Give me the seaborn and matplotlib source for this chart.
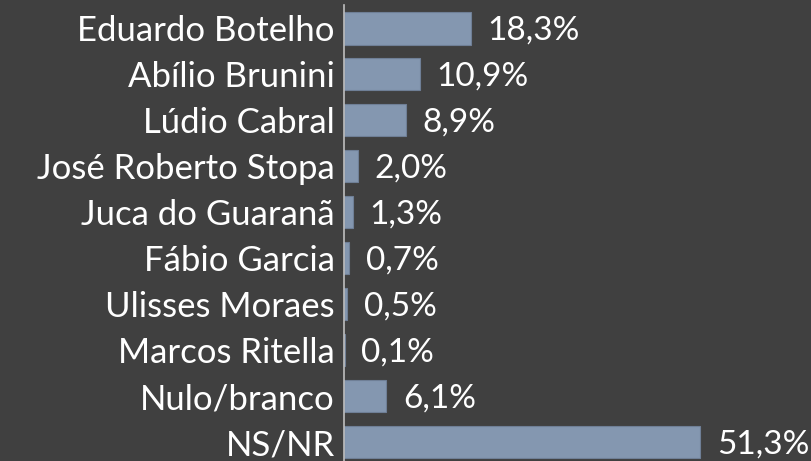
import matplotlib
matplotlib.use("Agg")
import matplotlib.pyplot as plt
import seaborn as sns
import pandas as pd

categories = ["Eduardo Botelho", "Abílio Brunini", "Lúdio Cabral", "José Roberto Stopa",
              "Juca do Guaranã", "Fábio Garcia", "Ulisses Moraes", "Marcos Ritella",
              "Nulo/branco", "NS/NR"]
values = [18.3, 10.9, 8.9, 2.0, 1.3, 0.7, 0.5, 0.1, 6.1, 51.3]
value_labels = ["18,3%", "10,9%", "8,9%", "2,0%", "1,3%", "0,7%", "0,5%", "0,1%", "6,1%", "51,3%"]

sns.set_theme(style="white")
plt.rcParams['font.family'] = ['Lato', 'DejaVu Sans']

bg = "#404040"
fig = plt.figure(figsize=(8.12, 4.61), dpi=100, facecolor=bg)
ax = fig.add_axes([344/812, 0.0, (812-344)/812, (461-5)/461])
ax.set_facecolor(bg)

df = pd.DataFrame({"cat": categories, "val": values})
sns.barplot(data=df, x="val", y="cat", ax=ax, color="#8497B0", saturation=1,
            width=0.7, edgecolor="#6f7f96", linewidth=0.8)

ax.set_xlim(0, 67.4)
ax.set_ylim(9.41, -0.51)
ax.set_xlabel("")
ax.set_ylabel("")
ax.set_xticks([])
for s in ["top", "right", "bottom"]:
    ax.spines[s].set_visible(False)
ax.spines["left"].set_color("#bfbfbf")
ax.spines["left"].set_linewidth(1.2)
ax.tick_params(axis="y", length=0, pad=6.5, labelsize=25, labelcolor="white")

for i, (v, lab) in enumerate(zip(values, value_labels)):
    ax.annotate(lab, (v, i), xytext=(12, -1.5), textcoords="offset points",
                va="center", ha="left", fontsize=24, color="white")

fig.savefig("out.png", dpi=100, facecolor=bg)
